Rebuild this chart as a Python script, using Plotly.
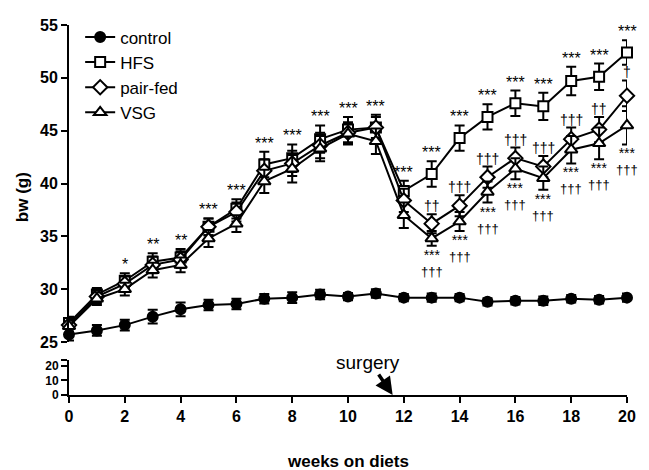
import plotly.graph_objects as go

weeks = list(range(21))

control = [25.7, 26.1, 26.6, 27.4, 28.1, 28.5, 28.6, 29.1, 29.2, 29.5, 29.3, 29.6, 29.2, 29.2, 29.2, 28.8, 28.9, 28.9, 29.1, 29.0, 29.2]
control_err = [0.55, 0.5, 0.5, 0.65, 0.65, 0.5, 0.5, 0.45, 0.5, 0.45, 0.35, 0.4, 0.35, 0.4, 0.35, 0.35, 0.35, 0.4, 0.35, 0.35, 0.4]

hfs = [26.8, 29.5, 30.8, 32.6, 33.0, 35.9, 37.6, 41.8, 42.4, 44.2, 45.1, 45.3, 39.3, 40.9, 44.3, 46.3, 47.6, 47.3, 49.7, 50.1, 52.4]
hfs_err = [0.6, 0.6, 0.7, 0.8, 0.8, 0.8, 0.9, 1.2, 1.3, 1.3, 1.2, 1.2, 0.95, 1.2, 1.2, 1.2, 1.2, 1.3, 1.35, 1.25, 1.15]

pair = [26.6, 29.3, 30.5, 32.3, 32.8, 35.9, 37.3, 41.2, 41.9, 43.6, 44.8, 45.3, 38.4, 36.2, 37.9, 40.6, 42.4, 41.6, 44.2, 45.1, 48.3]
pair_err = [0.6, 0.6, 0.7, 0.8, 0.8, 0.8, 0.9, 1.1, 1.2, 1.2, 1.0, 1.0, 1.1, 0.9, 1.0, 1.0, 1.0, 1.0, 1.1, 1.2, 1.45]

vsg = [26.5, 29.1, 30.0, 31.8, 32.3, 34.8, 36.2, 40.2, 41.4, 43.3, 44.7, 44.0, 37.0, 34.8, 36.4, 39.2, 41.4, 40.5, 43.2, 43.8, 45.5]
vsg_err = [0.6, 0.6, 0.6, 0.7, 0.7, 0.8, 0.8, 1.1, 1.3, 1.2, 1.0, 1.2, 1.2, 0.7, 0.9, 1.0, 1.0, 1.1, 1.3, 1.5, 1.8]

hfs_sig = ["", "", "*", "**", "**"] + ["***"] * 16
pair_sig = [""] * 13 + ["††", "†††", "†††", "†††", "†††", "†††", "††", "†"]
vsg_sig_star = [""] * 13 + ["***"] * 8
vsg_sig_dag = [""] * 13 + ["†††"] * 8

FONT = "Liberation Sans, Arial, sans-serif"

series = [
    ("control", control, control_err, "circle", "black"),
    ("HFS", hfs, hfs_err, "square", "white"),
    ("pair-fed", pair, pair_err, "diamond", "white"),
    ("VSG", vsg, vsg_err, "triangle-up", "white"),
]
sizes = {"circle": 10, "square": 10, "diamond": 11, "triangle-up": 11}

fig = go.Figure()
for name, vals, err, sym, fill in series:
    fig.add_trace(go.Scatter(
        x=weeks, y=vals, name=name, mode="lines+markers",
        line=dict(color="black", width=2),
        marker=dict(symbol=sym, size=sizes[sym], color=fill, line=dict(color="black", width=2)),
        error_y=dict(type="data", array=err, visible=True, color="black", thickness=2, width=5),
        cliponaxis=False,
    ))

ann = []
for i, w in enumerate(weeks):
    if hfs_sig[i]:
        ann.append(dict(x=w, y=hfs[i] + hfs_err[i], xref="x", yref="y", text=hfs_sig[i],
                        showarrow=False, yanchor="bottom", yshift=-2,
                        font=dict(family=FONT, size=16, color="black")))
    if pair_sig[i]:
        ann.append(dict(x=w, y=pair[i] + pair_err[i], xref="x", yref="y", text=pair_sig[i],
                        showarrow=False, yanchor="bottom", yshift=-2,
                        font=dict(family=FONT, size=14, color="black")))
    if vsg_sig_star[i]:
        ann.append(dict(x=w, y=vsg[i] - vsg_err[i], xref="x", yref="y",
                        text="<span style='font-size:14px'>%s</span><br><span style='font-size:13px'>%s</span>"
                             % (vsg_sig_star[i], vsg_sig_dag[i]),
                        showarrow=False, yanchor="top", yshift=1,
                        font=dict(family=FONT, size=12, color="black")))

# surgery arrow and label
ann.append(dict(x=11.6, y=0, xref="x", yref="y2", text="", showarrow=True,
                ax=-15, ay=-22, arrowhead=2, arrowsize=1, arrowwidth=3.5, arrowcolor="black"))
ann.append(dict(x=10.7, y=0, xref="x", yref="y2", text="surgery", showarrow=False,
                yanchor="middle", yshift=32, font=dict(family=FONT, size=19, color="black")))
# axis titles
ann.append(dict(x=-0.084, y=0.535, xref="paper", yref="paper", text="<b>bw (g)</b>",
                xanchor="center", yanchor="middle",
                textangle=-90, showarrow=False, font=dict(family=FONT, size=17, color="black")))
ann.append(dict(x=0.5, y=-0.18, xref="paper", yref="paper", text="<b>weeks on diets</b>",
                xanchor="center", yanchor="middle", showarrow=False,
                font=dict(family=FONT, size=17, color="black")))

axis_common = dict(showline=True, linecolor="black", linewidth=2, ticks="outside", automargin=False,
                   tickwidth=2, ticklen=6, tickcolor="black", showgrid=False, zeroline=False)

fig.update_layout(
    width=649, height=470,
    margin=dict(l=69, r=22, t=25, b=75, autoexpand=False),
    paper_bgcolor="white", plot_bgcolor="white",
    font=dict(family=FONT, color="black"),
    xaxis=dict(range=[0, 20], dtick=2, anchor="y2",
               tickfont=dict(family=FONT, size=16, color="black"),
               tickprefix="<b>", ticksuffix="</b>",
               **axis_common),
    yaxis=dict(domain=[0.1432, 1], range=[25, 55], dtick=5, anchor="x",
               tickfont=dict(family=FONT, size=16, color="black"), tickprefix="<b>", ticksuffix="</b>",
               **axis_common),
    yaxis2=dict(domain=[0, 0.0946], range=[0, 24], tickvals=[0, 10, 20, 24],
                ticktext=["<b>0</b>", "<b>10</b>", "<b>20</b>", ""], anchor="x",
                tickfont=dict(family=FONT, size=12, color="black"),
                **axis_common),
    showlegend=True,
    legend=dict(x=0.02, y=1.015, xanchor="left", yanchor="top", bgcolor="rgba(0,0,0,0)",
                font=dict(family=FONT, size=17, color="black"), tracegroupgap=0, itemwidth=30),
    annotations=ann,
)

fig.write_html("out.html", config={"displayModeBar": False},
               post_script="document.body.style.margin='0px';document.body.style.overflow='hidden';")
